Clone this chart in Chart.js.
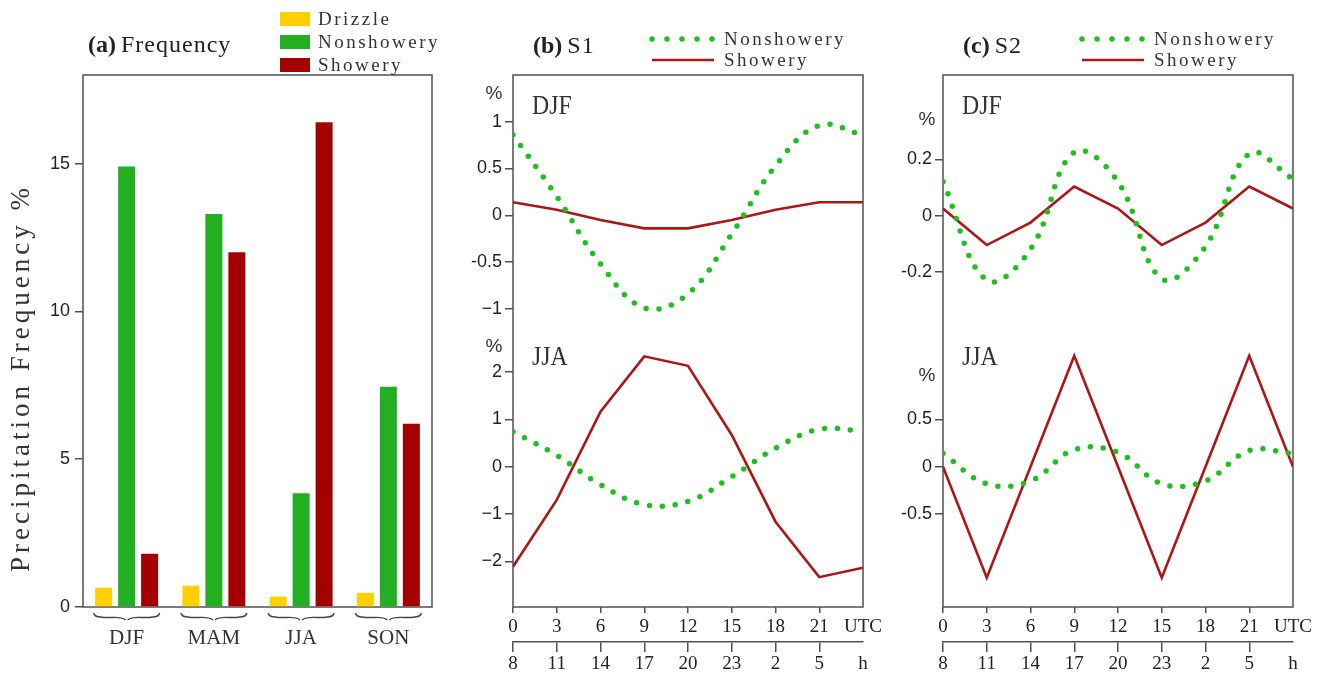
<!DOCTYPE html>
<html>
<head>
<meta charset="utf-8">
<script src="https://cdn.jsdelivr.net/npm/chart.js@4.4.1/dist/chart.umd.min.js"></script>
<style>
html,body{margin:0;padding:0;background:#fff;}
#wrap{position:relative;width:1323px;height:676px;overflow:hidden;background:#fff;}
.pane{position:absolute;top:0;height:676px;}
canvas{display:block;}
</style>
</head>
<body>
<div id="wrap">
  <div class="pane" style="left:0;width:450px"><canvas id="ca" width="450" height="676"></canvas></div>
  <div class="pane" style="left:450px;width:440px"><canvas id="cb" width="440" height="676"></canvas></div>
  <div class="pane" style="left:880px;width:443px"><canvas id="cc" width="443" height="676"></canvas></div>
</div>
<script>
// ---------- data ----------
const seasons = ['DJF', 'MAM', 'JJA', 'SON'];
const drizzleFreq = [0.65, 0.72, 0.35, 0.48];
const nonshoweryFreq = [14.9, 13.3, 3.85, 7.45];
const showeryFreq = [1.8, 12.0, 16.4, 6.2];
const freqTicks = [0, 5, 10, 15];

const hoursUTC = [0, 3, 6, 9, 12, 15, 18, 21, 24];
const utcTickLabels = ['0', '3', '6', '9', '12', '15', '18', '21', 'UTC'];
const localTickLabels = ['8', '11', '14', '17', '20', '23', '2', '5', 'h'];

const s1DjfNonshowery = [0.86, 0.20, -0.52, -0.99, -0.84, -0.20, 0.53, 0.96, 0.86];
const s1DjfShowery    = [0.14, 0.06, -0.05, -0.14, -0.14, -0.05, 0.06, 0.14, 0.14];
const s1JjaNonshowery = [0.74, 0.24, -0.38, -0.80, -0.73, -0.21, 0.39, 0.79, 0.75];
const s1JjaShowery    = [-2.11, -0.70, 1.16, 2.33, 2.13, 0.67, -1.16, -2.33, -2.13];
const s2DjfNonshowery = [0.12, -0.23, -0.12, 0.225, 0.12, -0.225, -0.11, 0.22, 0.13];
const s2DjfShowery    = [0.025, -0.105, -0.025, 0.103, 0.025, -0.105, -0.025, 0.103, 0.025];
const s2JjaNonshowery = [0.14, -0.18, -0.15, 0.18, 0.15, -0.18, -0.15, 0.17, 0.14];
const s2JjaShowery    = [0, -1.17, 0, 1.17, 0, -1.17, 0, 1.17, 0];

const s1DjfTicks = [-1, -0.5, 0, 0.5, 1];
const s1DjfTickLabels = ['\u22121', '-0.5', '0', '0.5', '1'];
const s1JjaTicks = [-2, -1, 0, 1, 2];
const s1JjaTickLabels = ['\u22122', '\u22121', '0', '1', '2'];
const s2DjfTicks = [-0.2, 0, 0.2];
const s2DjfTickLabels = ['-0.2', '0', '0.2'];
const s2JjaTicks = [-0.5, 0, 0.5];
const s2JjaTickLabels = ['-0.5', '0', '0.5'];

// ---------- styles ----------
const C = {
  frame: '#505050', text: '#222',
  drizzle: '#FFD000', nonshoweryBar: '#22B022', showeryBar: '#A40000',
  dot: '#1EC01E', line: '#AE1515'
};
const SERIF = '"Liberation Serif", "Times New Roman", serif';
const SANS = '"Liberation Sans", Arial, sans-serif';

function drawText(ctx, s, x, y, o) {
  ctx.save();
  ctx.font = o.font;
  ctx.fillStyle = o.color || C.text;
  ctx.textAlign = o.align || 'left';
  ctx.textBaseline = 'middle';
  if (o.ls && 'letterSpacing' in ctx) ctx.letterSpacing = o.ls + 'px';
  ctx.translate(x, y);
  if (o.rotate) ctx.rotate(o.rotate);
  if (o.sx) ctx.scale(o.sx, 1);
  ctx.fillText(s, 0, 0);
  ctx.restore();
}

const decor = {
  id: 'decor',
  beforeDatasetsDraw(chart, args, o) {
    const {ctx, chartArea: a} = chart;
    ctx.save();
    ctx.strokeStyle = C.frame;
    ctx.lineWidth = 1.5;
    ctx.strokeRect(a.left, a.top, a.right - a.left, a.bottom - a.top);
    ctx.restore();
  },
  afterDraw(chart, args, o) {
    const ctx = chart.ctx;
    const a = chart.chartArea;
    if (o.title) {
      const t = o.title;
      drawText(ctx, t.tag, t.x, t.y, {font: 'bold 24px ' + SERIF});
      ctx.save(); ctx.font = 'bold 24px ' + SERIF;
      const w = ctx.measureText(t.tag).width; ctx.restore();
      drawText(ctx, t.text, t.x + w + 5, t.y, {font: '24px ' + SERIF, ls: 1});
    }
    if (o.legend) {
      const L = o.legend;
      chart.data.datasets.slice(0, L.count).forEach((ds, i) => {
        const y = L.y + i * L.dy;
        if (L.kind === 'box') {
          ctx.fillStyle = ds.backgroundColor;
          ctx.fillRect(L.x, y - 7, 30, 14);
        } else {
          ctx.save();
          ctx.strokeStyle = ds.borderColor;
          ctx.lineWidth = ds.borderWidth;
          ctx.setLineDash(L.dash && ds.borderDash && ds.borderDash.length ? L.dash : []);
          ctx.lineCap = ds.borderCapStyle || 'butt';
          ctx.beginPath();
          ctx.moveTo(L.x, y);
          ctx.lineTo(L.x + L.len, y);
          ctx.stroke();
          ctx.restore();
        }
        drawText(ctx, ds.label, L.tx, y + 1, {font: '19px ' + SERIF, ls: 2.5, color: '#333'});
      });
    }
    if (o.yTitle) {
      drawText(ctx, o.yTitle.text, o.yTitle.x, o.yTitle.y,
        {font: '27px ' + SERIF, ls: 4, align: 'center', rotate: -Math.PI / 2, color: '#333'});
    }
    if (o.braces) {
      const xs = chart.scales.x;
      ctx.save();
      ctx.strokeStyle = '#444';
      ctx.lineWidth = 1.4;
      chart.data.labels.forEach((lab, i) => {
        const cx = xs.getPixelForValue(i);
        const hw = 33, top = a.bottom + 6, mid = a.bottom + 9, bot = a.bottom + 13, r = 7;
        const L = cx - hw, R = cx + hw;
        ctx.beginPath();
        ctx.moveTo(L, top);
        ctx.quadraticCurveTo(L + 1, mid + 1, L + r, mid + 1);
        ctx.bezierCurveTo(cx - hw / 2, mid + 3, cx - r, mid - 1, cx - 1, bot);
        ctx.moveTo(R, top);
        ctx.quadraticCurveTo(R - 1, mid + 1, R - r, mid + 1);
        ctx.bezierCurveTo(cx + hw / 2, mid + 3, cx + r, mid - 1, cx + 1, bot);
        ctx.stroke();
      });
      ctx.restore();
    }
    if (o.panels) {
      o.panels.forEach(p => {
        const s = chart.scales[p.axis];
        drawText(ctx, p.season, a.left + 19, s.top + p.sdy, {font: '28px ' + SERIF, sx: 0.85, color: '#333'});
        drawText(ctx, '%', a.left - p.pdx, s.top + p.pdy, {font: '19px ' + SANS, align: 'center', color: '#333'});
      });
    }
  }
};

Chart.register(decor);

// ---------- panel (a) ----------
new Chart(document.getElementById('ca'), {
  type: 'bar',
  data: {
    labels: seasons,
    datasets: [
      {label: 'Drizzle', data: drizzleFreq, backgroundColor: C.drizzle},
      {label: 'Nonshowery', data: nonshoweryFreq, backgroundColor: C.nonshoweryBar},
      {label: 'Showery', data: showeryFreq, backgroundColor: C.showeryBar}
    ]
  },
  options: {
    responsive: false,
    animation: false,
    categoryPercentage: 0.79,
    barPercentage: 0.74,
    layout: {padding: {top: 75, right: 18, left: 0, bottom: 0}},
    plugins: {
      legend: {display: false},
      tooltip: {enabled: false},
      decor: {
        title: {tag: '(a)', text: 'Frequency', x: 88, y: 46},
        legend: {kind: 'box', count: 3, x: 280, y: 19, dy: 23, tx: 318},
        yTitle: {text: 'Precipitation Frequency %', x: 22, y: 378},
        braces: true
      }
    },
    scales: {
      x: {
        grid: {display: false, drawTicks: false},
        border: {display: false},
        afterFit: s => { s.height = 69; },
        ticks: {padding: 19, color: '#333', font: {family: SERIF, size: 21}}
      },
      y: {
        min: 0, max: 18,
        afterBuildTicks: s => { s.ticks = freqTicks.map(v => ({value: v})); },
        afterFit: s => { s.width = 83; },
        grid: {drawOnChartArea: false, drawTicks: true, tickLength: 8, lineWidth: 1.5, color: C.frame},
        border: {display: false},
        ticks: {padding: 5, color: C.text, font: {family: SANS, size: 18}}
      }
    }
  }
});

// ---------- panels (b) and (c) ----------
function lineDs(label, values, axis, dotted) {
  return {
    label: label,
    yAxisID: axis,
    xAxisID: 'x',
    data: hoursUTC.map((h, i) => ({x: h, y: values[i]})),
    borderColor: dotted ? C.dot : C.line,
    borderWidth: dotted ? 5.5 : 2.6,
    borderDash: dotted ? [0, 13] : [],
    borderCapStyle: dotted ? 'round' : 'butt',
    tension: dotted ? 0.4 : 0,
    pointRadius: 0,
    fill: false
  };
}

function xAxis(labels, height, tickLen, pad, weight, showBorder) {
  return {
    type: 'linear', position: 'bottom', min: 0, max: 24, weight: weight,
    afterBuildTicks: s => { s.ticks = hoursUTC.map(v => ({value: v})); },
    afterFit: s => { s.height = height; },
    grid: {
      drawOnChartArea: false, drawTicks: true, tickLength: tickLen, lineWidth: 1.5,
      color: c => (c.tick && c.tick.value === 24) ? 'rgba(0,0,0,0)' : C.frame
    },
    border: {display: showBorder, color: C.frame, width: 1.5},
    ticks: {
      autoSkip: false, maxRotation: 0, padding: pad, color: C.text,
      font: {family: SERIF, size: 19},
      callback: (v, i) => labels[i]
    }
  };
}

function yAxis(ticks, labels, min, max, stackWeight, weight) {
  return {
    type: 'linear', position: 'left', stack: 'panel', stackWeight: stackWeight, weight: weight,
    min: min, max: max,
    afterBuildTicks: s => { s.ticks = ticks.map(v => ({value: v})); },
    afterFit: s => { s.width = 63; },
    grid: {drawOnChartArea: false, drawTicks: true, tickLength: 8, lineWidth: 1.5, color: C.frame},
    border: {display: false},
    ticks: {padding: 3, color: C.text, font: {family: SANS, size: 18}, callback: (v, i) => labels[i]}
  };
}

function makeLinePanel(id, cfg) {
  new Chart(document.getElementById(id), {
    type: 'line',
    data: {
      datasets: [
        lineDs('Nonshowery', cfg.djfNon, 'yDJF', true),
        lineDs('Showery', cfg.djfSh, 'yDJF', false),
        lineDs('Nonshowery', cfg.jjaNon, 'yJJA', true),
        lineDs('Showery', cfg.jjaSh, 'yJJA', false)
      ]
    },
    options: {
      responsive: false,
      animation: false,
      layout: {padding: {top: 75, right: cfg.padRight, left: 0, bottom: 0}},
      plugins: {
        legend: {display: false},
        tooltip: {enabled: false},
        decor: {
          title: {tag: cfg.tag, text: cfg.name, x: 83, y: 47},
          legend: {kind: 'line', count: 2, x: 202, len: 62, y: 39, dy: 21, tx: 274, dash: [0, 15]},
          panels: [
            {axis: 'yDJF', season: 'DJF', sdy: 32, pdx: cfg.pdx, pdy: cfg.pdyDjf},
            {axis: 'yJJA', season: 'JJA', sdy: 23, pdx: cfg.pdx, pdy: cfg.pdyJja}
          ]
        }
      },
      scales: {
        x: xAxis(utcTickLabels, 35, 6, 3, 0, false),
        x2: xAxis(localTickLabels, 34, 10, 1, 1, true),
        yDJF: yAxis(cfg.djfTicks, cfg.djfLabels, cfg.djfMin, cfg.djfMax, 260, 1),
        yJJA: yAxis(cfg.jjaTicks, cfg.jjaLabels, cfg.jjaMin, cfg.jjaMax, 272, 0)
      }
    }
  });
}

makeLinePanel('cb', {
  tag: '(b)', name: 'S1', padRight: 27,
  djfNon: s1DjfNonshowery, djfSh: s1DjfShowery, jjaNon: s1JjaNonshowery, jjaSh: s1JjaShowery,
  djfTicks: s1DjfTicks, djfLabels: s1DjfTickLabels, djfMin: -1.28, djfMax: 1.5,
  jjaTicks: s1JjaTicks, jjaLabels: s1JjaTickLabels, jjaMin: -2.96, jjaMax: 2.78,
  pdx: 19, pdyDjf: 19, pdyJja: 12
});

makeLinePanel('cc', {
  tag: '(c)', name: 'S2', padRight: 30,
  djfNon: s2DjfNonshowery, djfSh: s2DjfShowery, jjaNon: s2JjaNonshowery, jjaSh: s2JjaShowery,
  djfTicks: s2DjfTicks, djfLabels: s2DjfTickLabels, djfMin: -0.425, djfMax: 0.5,
  jjaTicks: s2JjaTicks, jjaLabels: s2JjaTickLabels, jjaMin: -1.48, jjaMax: 1.39,
  pdx: 16, pdyDjf: 45, pdyJja: 41
});
</script>
</body>
</html>
